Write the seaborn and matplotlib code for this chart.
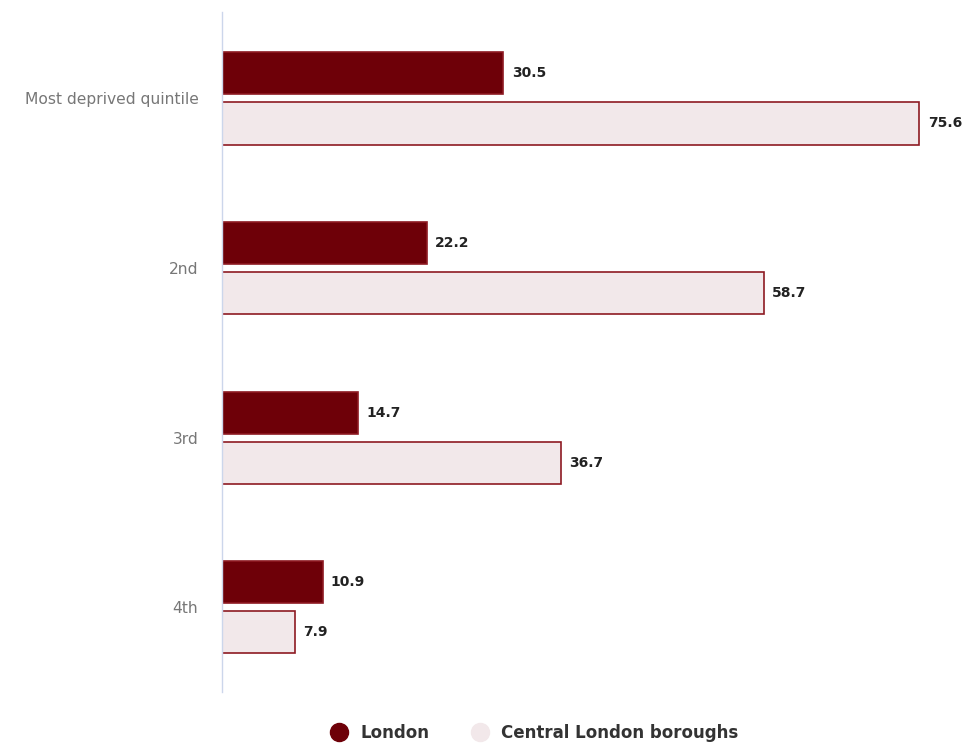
import matplotlib
matplotlib.use("Agg")
import matplotlib.pyplot as plt
from matplotlib.lines import Line2D
import seaborn as sns
import pandas as pd

categories = ["Most deprived quintile", "2nd", "3rd", "4th"]
series_names = ["London", "Central London boroughs"]
london = [30.5, 22.2, 14.7, 10.9]
central = [75.6, 58.7, 36.7, 7.9]

fills = {"London": "#6e0008", "Central London boroughs": "#f2e8ea"}
edge = "#8e1a22"

df = pd.DataFrame({
    "category": categories * 2,
    "series": [series_names[0]] * len(categories) + [series_names[1]] * len(categories),
    "value": london + central,
})

sns.set_theme(style="white")
plt.rcParams["font.family"] = ["DejaVu Sans"]

fig = plt.figure(figsize=(9.68, 7.44), dpi=100)
ax = fig.add_axes([222 / 968, 52 / 744, 738 / 968, 680 / 744])

sns.barplot(data=df, x="value", y="category", hue="series", order=categories,
            hue_order=series_names, palette=fills, orient="h", saturation=1,
            width=0.59, gap=0.16, linewidth=1.2, edgecolor=edge,
            legend=False, ax=ax, errorbar=None)

for container in ax.containers:
    ax.bar_label(container, fmt="%.1f", padding=6, fontsize=10,
                 fontweight="bold", color="#222222")

ax.set_xlim(0, 80)
ax.set_ylim(3.5, -0.51)
ax.set_xlabel("")
ax.set_ylabel("")
ax.set_xticks([])
ax.tick_params(axis="y", length=0, pad=17, labelsize=11.2, labelcolor="#777777")
for side in ["top", "right", "bottom"]:
    ax.spines[side].set_visible(False)
ax.spines["left"].set_color("#ccd6eb")
ax.spines["left"].set_linewidth(1)

handles = [
    Line2D([0], [0], marker="o", linestyle="", markersize=13,
           markerfacecolor=fills[name], markeredgecolor=fills[name])
    for name in series_names
]
fig.legend(handles, series_names, loc="center", bbox_to_anchor=(0.548, 11 / 744),
           ncol=2, frameon=False, handletextpad=0.3, columnspacing=2.0,
           prop={"weight": "bold", "size": 12}, labelcolor="#333333")

fig.savefig("out.png", dpi=100)
